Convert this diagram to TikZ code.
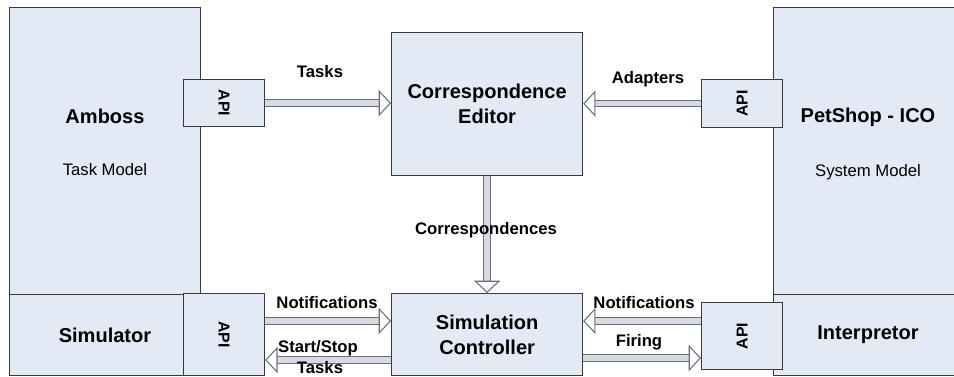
\documentclass[tikz,border=0pt]{standalone}
\usepackage{fontspec}
\setmainfont{Liberation Sans}
\usepackage{xcolor}
\usepackage{tikz}
\usetikzlibrary{arrows.meta}

\definecolor{boxfill}{HTML}{E4EAF5}
\definecolor{boxline}{HTML}{3A3A3A}
\definecolor{arrowfill}{HTML}{D6DAE2}
\definecolor{arrowline}{HTML}{6A6E76}

\tikzset{
  box/.style={draw=boxline, fill=boxfill, line width=0.7pt, inner sep=0pt, anchor=north west},
  api/.style={box, font=\bfseries\fontsize{9}{10}\selectfont},
  title/.style={font=\bfseries\fontsize{11.4}{14}\selectfont, align=center},
  sub/.style={font=\fontsize{9.5}{11}\selectfont},
  lbl/.style={font=\bfseries\fontsize{9.5}{11}\selectfont},
  flow/.style={draw=arrowline, line width=0.6pt, double=arrowfill, double distance=3pt,
    -{Triangle[open, length=7pt, width=15pt]}},
}

\begin{document}
\begin{tikzpicture}[x=0.02cm, y=-0.02cm]

\useasboundingbox (0,0) rectangle (954,376);
\clip (0,0) rectangle (954,376);

% Task side
\node[box, minimum width=3.82cm, minimum height=5.74cm] (amboss) at (9,7) {};
\node[box, minimum width=3.82cm, minimum height=1.62cm] (sim) at (9,294) {};
\node[title] (ambossT) at (105,116) {Amboss};
\node[sub] (taskM) at (105,170) {Task Model};
\node[title] (simT) at (105,335) {Simulator};

% System side
\node[box, minimum width=3.82cm, minimum height=5.74cm] (petshop) at (773,7) {};
\node[box, minimum width=3.82cm, minimum height=1.62cm] (interp) at (773,294) {};
\node[title] (petshopT) at (868,117) {PetShop - ICO};
\node[sub] (sysM) at (868,172) {System Model};
\node[title] (interpT) at (868,335) {Interpretor};

% Middle
\node[box, minimum width=3.82cm, minimum height=2.86cm] (ce) at (391,32) {};
\node[title] at (ce.center) {Correspondence\\Editor};
\node[box, minimum width=3.82cm, minimum height=1.64cm] (sc) at (391,293) {};
\node[title] at (sc.center) {Simulation\\Controller};

% APIs
\node[api, minimum width=1.62cm, minimum height=0.94cm] (api1) at (183,79) {};
\node[api, minimum width=1.62cm, minimum height=1.64cm] (api2) at (183,293) {};
\node[api, minimum width=1.62cm, minimum height=0.96cm] (api3) at (701,79) {};
\node[api, minimum width=1.62cm, minimum height=1.34cm] (api4) at (701,302) {};
\foreach \a/\r in {api1/-90, api2/-90, api3/90, api4/90}
  \node[font=\bfseries\fontsize{9}{10}\selectfont, rotate=\r] at (\a.center) {API};

% Arrows
\draw[flow] (api1.east) -- (api1.east -| ce.west);
\draw[flow] (api3.west) -- (api3.west -| ce.east);
\draw[flow] (ce.south) -- (sc.north);
\draw[flow] (api2.east |- 0,321) -- (sc.west |- 0,321);
\draw[flow] (sc.west |- 0,360) -- (api2.east |- 0,360);
\draw[flow] (api4.west |- 0,321) -- (sc.east |- 0,321);
\draw[flow] (sc.east |- 0,358) -- (api4.west |- 0,358);

% Labels
\node[lbl] at (320,72) {Tasks};
\node[lbl] at (648,79) {Adapters};
\node[lbl] at (486,230) {Correspondences};
\node[lbl] at (327,303) {Notifications};
\node[lbl] at (318,348) {Start/Stop};
\node[lbl] at (320,368) {Tasks};
\node[lbl] at (644,303) {Notifications};
\node[lbl] at (639,342) {Firing};

\end{tikzpicture}
\end{document}
